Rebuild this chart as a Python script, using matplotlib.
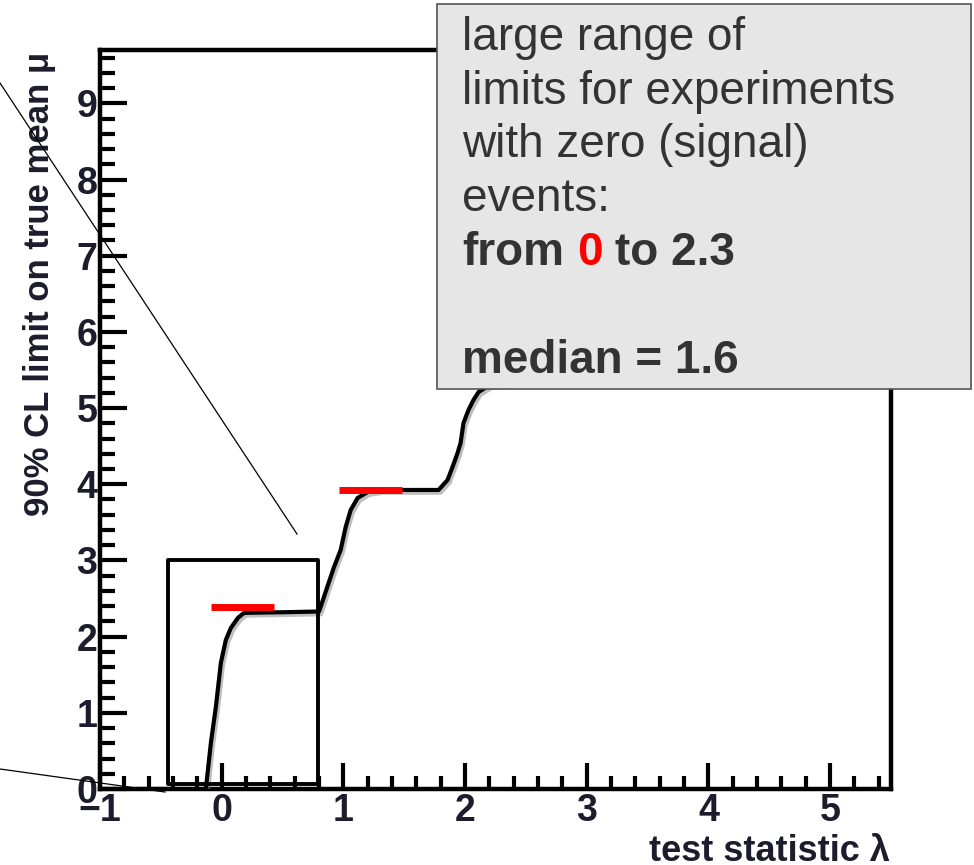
import matplotlib
matplotlib.use("Agg")
import matplotlib.pyplot as plt
import matplotlib.patheffects as pe
from matplotlib.patches import Rectangle
from matplotlib.lines import Line2D
from matplotlib.ticker import MultipleLocator

W, H = 974, 865

# 90% CL upper limit on the true mean vs. test statistic (staircase curve)
lam = [-1.0, -0.13, -0.089, -0.048, -0.007, 0.034, 0.075, 0.133, 0.182, 0.239,
       0.5, 0.80, 0.84, 0.92, 0.978, 1.019, 1.06, 1.117, 1.2, 1.306,
       1.55, 1.782, 1.856, 1.897, 1.938, 1.963, 1.987, 2.028, 2.069, 2.111,
       2.2, 2.5]
mu_limit = [0.0, 0.0, 0.604, 1.076, 1.654, 1.956, 2.113, 2.245, 2.31, 2.314,
            2.32, 2.33, 2.52, 2.9, 3.14, 3.44, 3.662, 3.82, 3.898, 3.925,
            3.925, 3.925, 4.056, 4.227, 4.41, 4.542, 4.804, 4.975, 5.106, 5.211,
            5.3, 5.32]

# red markers on the first two plateaus
red_level = [2.385, 3.925]
red_start = [-0.089, 0.964]
red_stop = [0.428, 1.478]

box_lines = ["large range of", "limits for experiments", "with zero (signal)", "events:"]

tick_font = dict(family="Liberation Sans", weight="bold", size=27, color="#1c1c2c")
label_font = dict(family="Liberation Sans", weight="bold", color="#1c1c2c")


def fpos(x, y):
    # pixel position (from top-left) -> figure fraction
    return x / W, 1 - y / H


fig = plt.figure(figsize=(W / 100, H / 100), dpi=100)
ax = fig.add_axes([100 / W, 1 - 789 / H, 791 / W, 739 / H])
ax.set_xlim(-1, 5.5)
ax.set_ylim(0, 9.7)

ax.plot(lam, mu_limit, color="black", lw=3, solid_joinstyle="round", zorder=3,
        path_effects=[pe.SimpleLineShadow(offset=(1.5, -2), shadow_color="0.5", alpha=0.5),
                      pe.Normal()])
ax.hlines(red_level, red_start, red_stop, color="red", lw=5, zorder=4)

# zoom frame around the first step
ax.add_patch(Rectangle((-0.44, 0.07), 1.23, 2.94, fill=False, lw=2.8, ec="black",
                       joinstyle="round", zorder=5))

for s in ax.spines.values():
    s.set_linewidth(3.2)
    s.set_capstyle("projecting")

ax.xaxis.set_major_locator(MultipleLocator(1))
ax.xaxis.set_minor_locator(MultipleLocator(0.2))
ax.yaxis.set_major_locator(MultipleLocator(1))
ax.yaxis.set_minor_locator(MultipleLocator(0.2))
ax.tick_params(which="both", direction="in", top=False, right=False, width=3, color="black")
ax.tick_params(axis="x", which="major", length=19, pad=3)
ax.tick_params(axis="x", which="minor", length=9.5)
ax.tick_params(axis="y", which="major", length=19.5, pad=2)
ax.tick_params(axis="y", which="minor", length=11)
for t in ax.get_xticklabels() + ax.get_yticklabels():
    t.set(**tick_font)

fig.text(*fpos(40, 52), "90% CL limit on true mean \u03bc", rotation=90,
         ha="center", va="top", size=25, **label_font)
fig.text(*fpos(890, 834), "test statistic \u03bb", ha="right", va="top", size=26,
         **label_font)

# pointer lines from the zoom frame
fig.add_artist(Line2D([0, 297 / W], [1 - 83 / H, 1 - 534 / H], color="black", lw=0.9,
                      transform=fig.transFigure, zorder=6))
fig.add_artist(Line2D([0, 165 / W], [1 - 769 / H, 1 - 792 / H], color="black", lw=0.9,
                      transform=fig.transFigure, zorder=6))

# callout box
fig.add_artist(Rectangle(fpos(437, 389), 534 / W, 385 / H, transform=fig.transFigure,
                         fc="#e6e6e6", ec="#555555", lw=1.2, zorder=7))

txt = dict(family="Liberation Sans", size=33, color="#333333", va="baseline", zorder=8)
baselines = [50, 103.5, 157, 211]
for line, yb in zip(box_lines, baselines):
    fig.text(*fpos(462, yb), line, **txt)

renderer = fig.canvas.get_renderer()
space = 0.278 * 33 * 100 / 72
t1 = fig.text(*fpos(462, 265), "from", weight="bold", **txt)
x1 = t1.get_window_extent(renderer).x1 + space
t2 = fig.text(x1 / W, 1 - 265 / H, "0", weight="bold", **dict(txt, color="red"))
x2 = t2.get_window_extent(renderer).x1 + space
fig.text(x2 / W, 1 - 265 / H, "to 2.3", weight="bold", **txt)
fig.text(*fpos(462, 373), "median = 1.6", weight="bold", **txt)

fig.savefig("out.png", dpi=100)
